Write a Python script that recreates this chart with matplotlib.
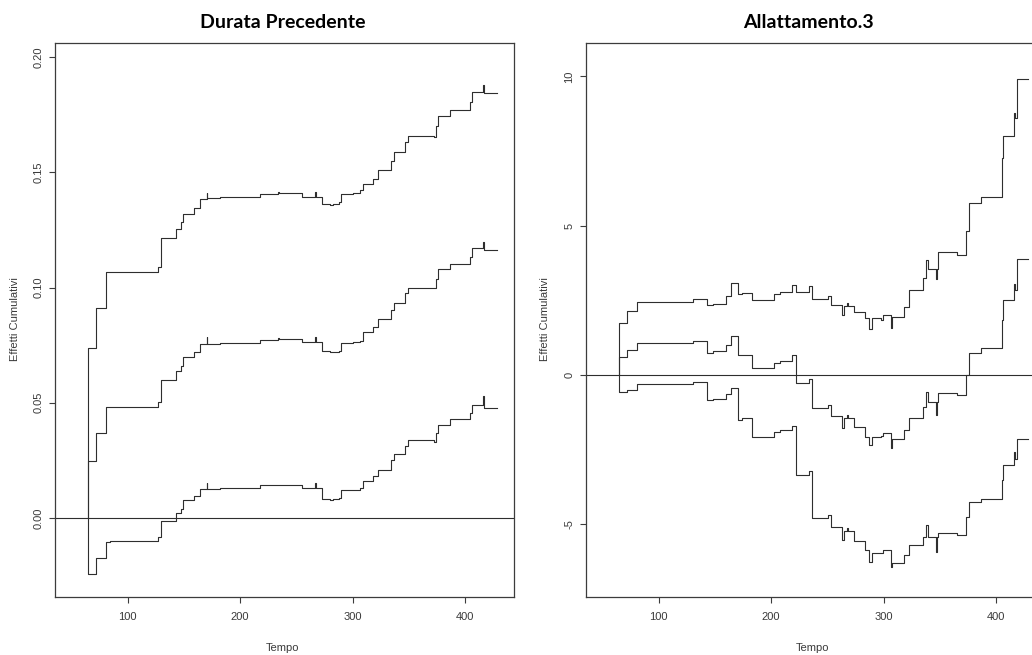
import numpy as np
import matplotlib
matplotlib.use('Agg')
import matplotlib.pyplot as plt

plt.rcParams['font.family'] = ['Liberation Sans', 'DejaVu Sans']

# --- Durata Precedente: cumulative effect (middle) and bands ---
dur_time = [64.4, 64.4, 72.0, 80.4, 84.3, 127.2, 129.9, 142.7, 147.5, 149.5, 159.3, 164.4,
            170.3, 170.9, 182.2, 217.8, 234.1, 234.6, 252.5, 254.9, 266.8, 267.4, 272.8,
            280.2, 282.8, 287.5, 289.9, 297.9, 300.4, 306.8, 309.3, 318.2, 322.6, 334.5,
            337.1, 346.3, 349.0, 372.8, 374.6, 376.1, 386.4, 404.8, 406.3, 415.8, 416.6,
            428.6]
dur_upper = [0, 0.0737, 0.0910, 0.1068, 0.1068, 0.1090, 0.1213, 0.1255, 0.1285, 0.1320,
             0.1346, 0.1385, 0.1412, 0.1389, 0.1392, 0.1404, 0.1413, 0.1412, 0.1410,
             0.1394, 0.1415, 0.1394, 0.1363, 0.1357, 0.1362, 0.1373, 0.1407, 0.1404,
             0.1410, 0.1422, 0.1449, 0.1470, 0.1509, 0.1550, 0.1589, 0.1630, 0.1657,
             0.1655, 0.1700, 0.1743, 0.1772, 0.1805, 0.1848, 0.1877, 0.1843, 0.1843]
dur_est = [0, 0.0249, 0.0369, 0.0480, 0.0482, 0.0504, 0.0600, 0.0639, 0.0660, 0.0698,
           0.0720, 0.0756, 0.0785, 0.0755, 0.0758, 0.0772, 0.0780, 0.0775, 0.0775,
           0.0763, 0.0785, 0.0763, 0.0724, 0.0718, 0.0720, 0.0725, 0.0760, 0.0760,
           0.0765, 0.0770, 0.0805, 0.0827, 0.0862, 0.0902, 0.0931, 0.0975, 0.0998,
           0.0996, 0.1035, 0.1079, 0.1100, 0.1133, 0.1170, 0.1196, 0.1162, 0.1162]
dur_lower = [0, -0.0243, -0.0173, -0.0105, -0.0098, -0.0081, -0.0014, 0.0020, 0.0040,
             0.0077, 0.0095, 0.0127, 0.0152, 0.0127, 0.0128, 0.0142, 0.0145, 0.0142,
             0.0142, 0.0129, 0.0150, 0.0129, 0.0084, 0.0079, 0.0081, 0.0085, 0.0120,
             0.0120, 0.0122, 0.0130, 0.0160, 0.0182, 0.0210, 0.0252, 0.0278, 0.0312,
             0.0337, 0.0330, 0.0370, 0.0405, 0.0429, 0.0454, 0.0491, 0.0528, 0.0477,
             0.0477]

# --- Allattamento.3 ---
all_time = [64.8, 64.8, 72.1, 80.4, 130.5, 142.7, 148.4, 159.9, 164.4, 170.1, 174.5, 183.4,
            202.7, 207.7, 218.4, 221.7, 233.8, 236.5, 250.5, 253.5, 263.0, 265.0, 267.5,
            268.5, 273.4, 283.7, 287.3, 289.7, 297.7, 299.2, 306.6, 307.3, 317.9, 322.9,
            334.8, 337.8, 339.3, 346.5, 347.3, 348.7, 365.4, 373.4, 376.3, 386.7, 405.2,
            406.0, 415.9, 416.5, 418.8, 428.9]
all_upper = [0, 1.73, 2.12, 2.44, 2.53, 2.33, 2.37, 2.63, 3.06, 2.70, 2.74, 2.51, 2.69,
             2.77, 3.00, 2.76, 2.97, 2.53, 2.65, 2.35, 1.99, 2.29, 2.40, 2.29, 2.10, 1.90,
             1.54, 1.90, 1.84, 2.01, 1.57, 1.93, 2.26, 2.85, 3.23, 3.86, 3.55, 3.21, 3.55,
             4.10, 4.03, 4.83, 5.76, 5.95, 7.26, 8.01, 8.79, 8.60, 9.91, 9.91]
all_est = [0, 0.59, 0.82, 1.07, 1.13, 0.74, 0.80, 1.01, 1.31, 0.65, 0.67, 0.21, 0.40,
           0.46, 0.67, -0.29, -0.13, -1.12, -1.03, -1.39, -1.78, -1.44, -1.35, -1.44,
           -1.75, -2.09, -2.37, -2.09, -2.07, -1.95, -2.44, -2.15, -1.86, -1.44, -1.08,
           -0.58, -0.92, -1.36, -0.92, -0.60, -0.69, -0.02, 0.74, 0.90, 1.85, 2.49, 3.05,
           2.85, 3.88, 3.88]
all_lower = [0, -0.58, -0.50, -0.30, -0.25, -0.86, -0.80, -0.64, -0.44, -1.51, -1.45,
             -2.09, -1.92, -1.86, -1.72, -3.37, -3.23, -4.79, -4.69, -5.10, -5.55, -5.25,
             -5.15, -5.25, -5.57, -5.88, -6.27, -5.99, -5.97, -5.88, -6.44, -6.31, -6.05,
             -5.71, -5.44, -5.05, -5.44, -5.94, -5.44, -5.32, -5.38, -4.77, -4.27, -4.15,
             -3.52, -3.04, -2.59, -2.81, -2.14, -2.14]

x_ticks = [100, 200, 300, 400]
dur_yticks = [0.00, 0.05, 0.10, 0.15, 0.20]
dur_ylabels = ['0.00', '0.05', '0.10', '0.15', '0.20']
all_yticks = [-5, 0, 5, 10]
all_ylabels = ['-5', '0', '5', '10']

W, H = 1032, 655
fig = plt.figure(figsize=(W / 100, H / 100), dpi=100)

line_col = '#2e2e2e'
axis_col = '#3c3c3c'
txt_col = '#3a3a3a'


def panel(rect, t, series, ylim, yticks, ylabels):
    ax = fig.add_axes(rect)
    for s in series:
        ax.step(t, s, where='post', color=line_col, lw=0.8)
    ax.axhline(0, color=line_col, lw=0.8)
    ax.set_xlim(35.3, 443.6)
    ax.set_ylim(*ylim)
    ax.set_xticks(x_ticks)
    ax.set_xticklabels([str(v) for v in x_ticks])
    ax.set_yticks(yticks)
    ax.set_yticklabels(ylabels, rotation=90, va='center')
    ax.tick_params(axis='both', length=4.5, width=0.8, color=axis_col,
                   labelsize=8, labelcolor=txt_col)
    ax.tick_params(axis='x', pad=6.5)
    ax.tick_params(axis='y', pad=4)
    for sp in ax.spines.values():
        sp.set_color(axis_col)
        sp.set_linewidth(0.9)
    return ax


ax1 = panel([55 / W, 1 - 597 / H, 459 / W, 554 / H], dur_time,
            [dur_upper, dur_est, dur_lower], (-0.0343, 0.2061), dur_yticks, dur_ylabels)
ax2 = panel([586 / W, 1 - 597 / H, 459 / W, 554 / H], all_time,
            [all_upper, all_est, all_lower], (-7.45, 11.12), all_yticks, all_ylabels)

# titles
fig.text(283 / W, 1 - 22 / H, 'Durata Precedente', family=['Lato', 'DejaVu Sans'],
         fontweight='bold', fontsize=14, ha='center', va='center')
fig.text(808 / W, 1 - 22 / H, 'Allattamento.3', family=['Lato', 'DejaVu Sans'],
         fontweight='bold', fontsize=14, ha='center', va='center')

# axis labels
for xc, yc in [(283, 648), (813, 648)]:
    fig.text(xc / W, 1 - yc / H, 'Tempo', fontsize=8, color=txt_col,
             ha='center', va='center')
for xc in [15, 545]:
    fig.text(xc / W, 1 - 319 / H, 'Effetti Cumulativi', fontsize=8, color=txt_col,
             ha='center', va='center', rotation=90)

plt.savefig('out.png', dpi=100)
